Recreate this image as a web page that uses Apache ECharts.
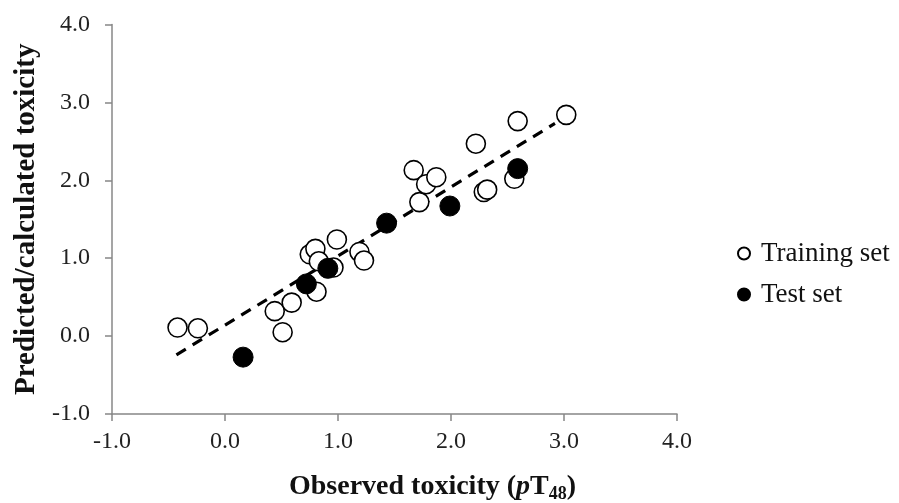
<!DOCTYPE html>
<html>
<head>
<meta charset="utf-8">
<script src="https://cdn.jsdelivr.net/npm/echarts@6/dist/echarts.min.js"></script>
<style>html,body{margin:0;padding:0;background:#fff;}#c{width:899px;height:503px;}</style>
</head>
<body>
<div id="c"></div>
<script>
// Training set (observed, predicted)
const trainX = [-0.42, -0.24, 0.44, 0.51, 0.59, 0.81, 0.75, 0.80, 0.83, 0.96, 0.99, 1.19, 1.23, 1.67, 1.72, 1.78, 1.87, 2.22, 2.29, 2.32, 2.56, 2.59, 3.02];
const trainY = [0.11, 0.10, 0.32, 0.05, 0.43, 0.57, 1.05, 1.12, 0.96, 0.88, 1.24, 1.08, 0.97, 2.13, 1.72, 1.95, 2.04, 2.47, 1.85, 1.88, 2.02, 2.76, 2.84];
// Test set
const testX = [0.16, 0.72, 0.91, 1.43, 1.99, 2.59];
const testY = [-0.27, 0.67, 0.87, 1.45, 1.67, 2.15];
// Trend line endpoints
const trendX = [-0.43, 2.92];
const trendY = [-0.24, 2.73];
// Axis ticks
const xTicks = [-1.0, 0.0, 1.0, 2.0, 3.0, 4.0];
const yTicks = [-1.0, 0.0, 1.0, 2.0, 3.0, 4.0];

const zip = (a, b) => a.map((v, i) => [v, b[i]]);
const font = '"Liberation Serif","Times New Roman",serif';

const chart = echarts.init(document.getElementById('c'));
chart.setOption({
  animation: false,
  backgroundColor: '#fff',
  grid: { left: 112, right: 222, top: 24.5, bottom: 89, containLabel: false, outerBoundsMode: 'none' },
  xAxis: {
    type: 'value', min: xTicks[0], max: xTicks[xTicks.length - 1], interval: 1,
    axisLine: { onZero: false, lineStyle: { color: '#878787', width: 1.5 } },
    axisTick: { show: true, length: 7, lineStyle: { color: '#878787', width: 1.5 } },
    splitLine: { show: false },
    axisLabel: { margin: 16, fontFamily: font, fontSize: 24, color: '#222', formatter: v => v.toFixed(1) },
    name: '{b|Observed toxicity (}{i|p}{b|T}{s|48}{b|)}',
    nameLocation: 'middle', nameGap: 57,
    nameTextStyle: {
      padding: [0, 0, 0, 76],
      rich: {
        b: { fontFamily: font, fontSize: 28, fontWeight: 'bold', color: '#111', lineHeight: 32 },
        i: { fontFamily: font, fontSize: 28, fontWeight: 'bold', fontStyle: 'italic', color: '#111', lineHeight: 32 },
        s: { fontFamily: font, fontSize: 18, fontWeight: 'bold', color: '#111', lineHeight: 32, padding: [14, 0, 0, 0] }
      }
    }
  },
  yAxis: {
    type: 'value', min: yTicks[0], max: yTicks[yTicks.length - 1], interval: 1,
    axisLine: { show: true, onZero: false, lineStyle: { color: '#878787', width: 1.5 } },
    axisTick: { show: true, length: 7, lineStyle: { color: '#878787', width: 1.5 } },
    splitLine: { show: false },
    axisLabel: { margin: 22, fontFamily: font, fontSize: 24, color: '#222', formatter: v => v.toFixed(1) },
    name: 'Predicted/calculated toxicity',
    nameLocation: 'middle', nameGap: 70,
    nameTextStyle: { fontFamily: font, fontSize: 29, fontWeight: 'bold', color: '#111' }
  },
  legend: {
    orient: 'vertical', left: 732, top: 235, itemGap: 14,
    itemWidth: 12, itemHeight: 12,
    textStyle: { fontFamily: font, fontSize: 27, color: '#111', padding: [0, 0, 0, 6] },
    data: ['Training set', 'Test set']
  },
  series: [
    {
      type: 'line', name: 'trend', data: zip(trendX, trendY), symbol: 'none',
      lineStyle: { color: '#000', width: 3.2, type: [11, 8] }, silent: true, z: 1
    },
    {
      type: 'scatter', name: 'Training set', data: zip(trainX, trainY), symbolSize: 19,
      itemStyle: { color: '#fff', borderColor: '#000', borderWidth: 1.6, opacity: 1 }, z: 2
    },
    {
      type: 'scatter', name: 'Test set', data: zip(testX, testY), symbolSize: 20,
      itemStyle: { color: '#000', borderColor: '#000', borderWidth: 1, opacity: 1 }, z: 3
    }
  ]
});
</script>
</body>
</html>
